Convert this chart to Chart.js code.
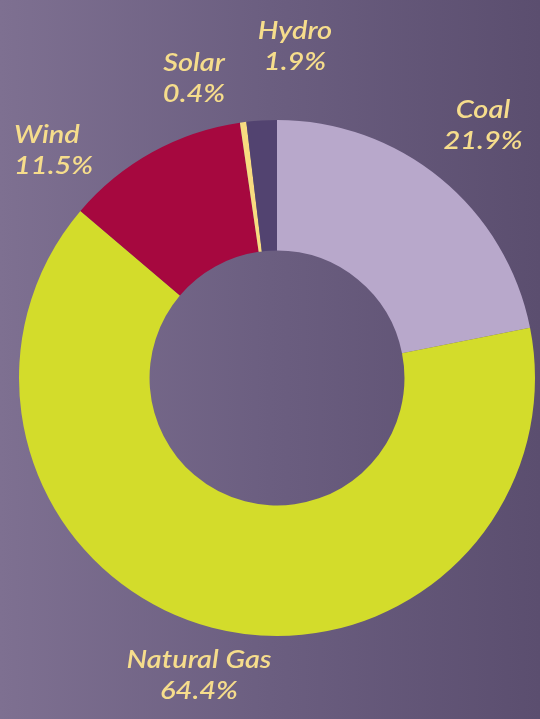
<!DOCTYPE html>
<html>
<head>
<meta charset="utf-8">
<script src="https://cdn.jsdelivr.net/npm/chart.js@4/dist/chart.umd.min.js"></script>
<style>
  html, body { margin: 0; padding: 0; }
  body {
    width: 540px; height: 719px; overflow: hidden;
    background: linear-gradient(to right, #7e7091 0%, #6b5e80 50%, #5b4e6f 100%);
  }
  #wrap { position: relative; width: 540px; height: 719px; }
</style>
</head>
<body>
<div id="wrap"><canvas id="mix"></canvas></div>
<script>
// generation mix, clockwise from 12 o'clock
const sources = ['Coal', 'Natural Gas', 'Wind', 'Solar', 'Hydro'];
const shares = [21.9, 64.4, 11.5, 0.4, 1.9];
const sliceColors = ['#b8a8cb', '#d3dc2b', '#a6083f', '#f8dc80', '#524370'];

// where each label sits (anchor x, first baseline), text align
const labelSpots = [
    { x: 483, y: 118, align: 'center' },
    { x: 199, y: 668, align: 'center' },
    { x: 14, y: 143, align: 'left' },
    { x: 194, y: 71, align: 'center' },
    { x: 295, y: 39, align: 'center' }
];

const sliceLabels = {
    id: 'sliceLabels',
    afterDraw(chart) {
        const ctx = chart.ctx;
        const stretch = 1.16; // the original face is wider than Lato
        ctx.save();
        ctx.fillStyle = '#f6dd8c';
        ctx.font = 'italic 600 25px Lato';
        ctx.textBaseline = 'alphabetic';
        chart.data.labels.forEach((name, i) => {
            const spot = labelSpots[i];
            ctx.save();
            ctx.translate(spot.x, spot.y);
            ctx.scale(stretch, 1);
            ctx.textAlign = spot.align;
            ctx.fillText(name, 0, 0);
            ctx.fillText(shares[i].toFixed(1) + '%', 0, 31);
            ctx.restore();
        });
        ctx.restore();
    }
};

new Chart(document.getElementById('mix'), {
    type: 'doughnut',
    data: {
        labels: sources,
        datasets: [{
            data: shares,
            backgroundColor: sliceColors,
            borderWidth: 0
        }]
    },
    options: {
        responsive: true,
        maintainAspectRatio: false,
        animation: false,
        cutout: '49.4%',
        layout: { padding: { left: 19, right: 5, top: 120, bottom: 83 } },
        plugins: {
            legend: { display: false },
            tooltip: { enabled: false }
        }
    },
    plugins: [sliceLabels]
});
</script>
</body>
</html>
